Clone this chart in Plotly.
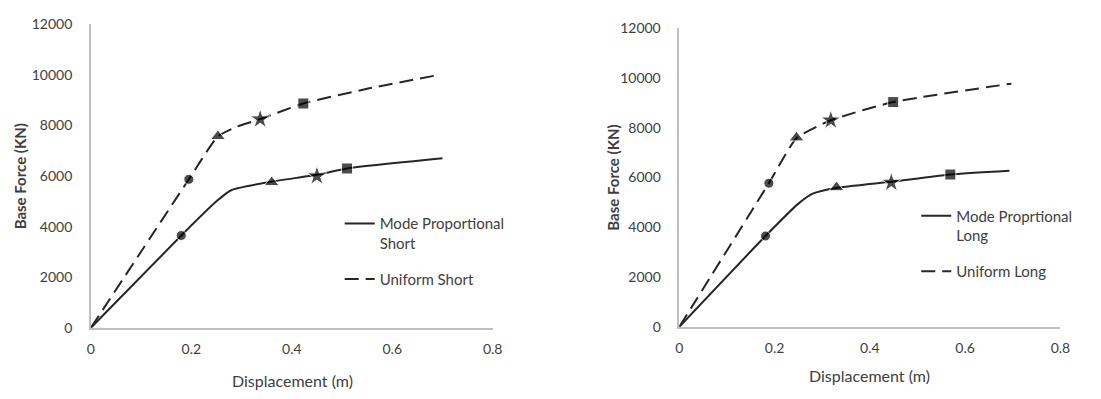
import plotly.graph_objects as go

W, H = 1101, 399

# ---- Data ----
# Left chart: Short direction
mp_short_x = [0, 0.18, 0.25, 0.28, 0.36, 0.45, 0.51, 0.70]
mp_short_y = [0, 3650, 5000, 5450, 5780, 6050, 6300, 6700]
un_short_x = [0, 0.195, 0.253, 0.29, 0.337, 0.423, 0.55, 0.69]
un_short_y = [0, 5870, 7570, 7950, 8250, 8870, 9450, 9990]
# markers: circle, triangle, star, square
mp_short_mk_x = [0.18, 0.36, 0.45, 0.51]
mp_short_mk_y = [3650, 5750, 6000, 6300]
un_short_mk_x = [0.195, 0.253, 0.337, 0.423]
un_short_mk_y = [5870, 7570, 8250, 8870]

# Right chart: Long direction
mp_long_x = [0, 0.181, 0.25, 0.28, 0.328, 0.445, 0.569, 0.693]
mp_long_y = [0, 3650, 4950, 5350, 5580, 5830, 6120, 6270]
un_long_x = [0, 0.188, 0.246, 0.318, 0.449, 0.697]
un_long_y = [0, 5770, 7580, 8300, 9030, 9770]
mp_long_mk_x = [0.181, 0.33, 0.445, 0.569]
mp_long_mk_y = [3650, 5600, 5800, 6120]
un_long_mk_x = [0.188, 0.246, 0.318, 0.449]
un_long_mk_y = [5770, 7600, 8300, 9030]

marker_symbols = ["circle", "triangle-up", "star", "square"]
marker_sizes = [10, 13, 15, 11]

x_ticks = [0, 0.2, 0.4, 0.6, 0.8]
x_ticklabels = ["0", "0.2", "0.4", "0.6", "0.8"]
y_ticks = [0, 2000, 4000, 6000, 8000, 10000, 12000]
y_ticklabels = ["0", "2000", "4000", "6000", "8000", "10000", "12000"]

x_title = "Displacement (m)"
y_title = "Base Force (KN)"

FONT = "Lato"
TXT = "#404040"

fig = go.Figure()

def add_chart(xa, ya, mpx, mpy, unx, uny, mkx1, mky1, mkx2, mky2, name1, name2, lg1, lg2):
    fig.add_trace(go.Scatter(x=mpx, y=mpy, mode="lines", name=name1,
                             line=dict(color="#262626", width=2, shape="spline", smoothing=0.5),
                             xaxis=xa, yaxis=ya, legend=lg1))
    fig.add_trace(go.Scatter(x=unx, y=uny, mode="lines", name=name2,
                             line=dict(color="#262626", width=2, dash="14px,7px", shape="spline", smoothing=0.5),
                             xaxis=xa, yaxis=ya, legend=lg2))
    for mx, my in ((mkx1, mky1), (mkx2, mky2)):
        fig.add_trace(go.Scatter(x=mx, y=my, mode="markers", showlegend=False,
                                 marker=dict(symbol=marker_symbols, size=marker_sizes, color="black"),
                                 xaxis=xa, yaxis=ya))

add_chart("x", "y", mp_short_x, mp_short_y, un_short_x, un_short_y,
          mp_short_mk_x, mp_short_mk_y, un_short_mk_x, un_short_mk_y,
          "Mode Proportional<br>Short", "Uniform Short", "legend", "legend2")
add_chart("x2", "y2", mp_long_x, mp_long_y, un_long_x, un_long_y,
          mp_long_mk_x, mp_long_mk_y, un_long_mk_x, un_long_mk_y,
          "Mode Proprtional<br>Long", "Uniform Long", "legend3", "legend4")

def px_x(p):
    return p / W

def px_y(p):
    return 1 - p / H

axis_common = dict(showgrid=False, zeroline=False, showline=True, linecolor="#bfbfbf", linewidth=1.5,
                   ticks="", tickfont=dict(family=FONT, size=14, color=TXT))
xcommon = dict(axis_common, range=[0, 0.8], tickvals=x_ticks, ticktext=x_ticklabels, ticklabelstandoff=8)
ycommon = dict(axis_common, range=[0, 12000], tickvals=y_ticks, ticktext=y_ticklabels, ticklabelstandoff=14)

legend_common = dict(font=dict(family=FONT, size=15, color=TXT), bgcolor="rgba(0,0,0,0)",
                     xanchor="left", yanchor="top", valign="top", itemwidth=30, tracegroupgap=0)

xt_font = dict(family=FONT, size=16, color=TXT)
yt_font = dict(family=FONT, size=15, color=TXT, weight="bold")

annotations = [
    dict(text=x_title, x=px_x(292), y=px_y(388), font=xt_font),
    dict(text=x_title, x=px_x(877), y=px_y(383), font=xt_font),
    dict(text=y_title, x=px_x(16), y=px_y(175), font=yt_font, textangle=-90),
    dict(text=y_title, x=px_x(616), y=px_y(176), font=yt_font, textangle=-90),
]
for a in annotations:
    a.update(xref="paper", yref="paper", showarrow=False, xanchor="center", yanchor="middle")

fig.update_layout(
    width=W, height=H,
    margin=dict(l=0, r=0, t=0, b=0),
    paper_bgcolor="white", plot_bgcolor="white",
    xaxis=dict(xcommon, domain=[px_x(88), px_x(495)], anchor="y"),
    yaxis=dict(ycommon, domain=[px_y(333), px_y(16)], anchor="x"),
    xaxis2=dict(xcommon, domain=[px_x(684), px_x(1070)], anchor="y2"),
    yaxis2=dict(ycommon, domain=[px_y(332), px_y(20)], anchor="x2"),
    legend=dict(legend_common, x=px_x(340), y=px_y(207)),
    legend2=dict(legend_common, x=px_x(340), y=px_y(265)),
    legend3=dict(legend_common, x=px_x(924), y=px_y(199)),
    legend4=dict(legend_common, x=px_x(924), y=px_y(257)),
    annotations=annotations,
)

fig.write_html("out.html")
